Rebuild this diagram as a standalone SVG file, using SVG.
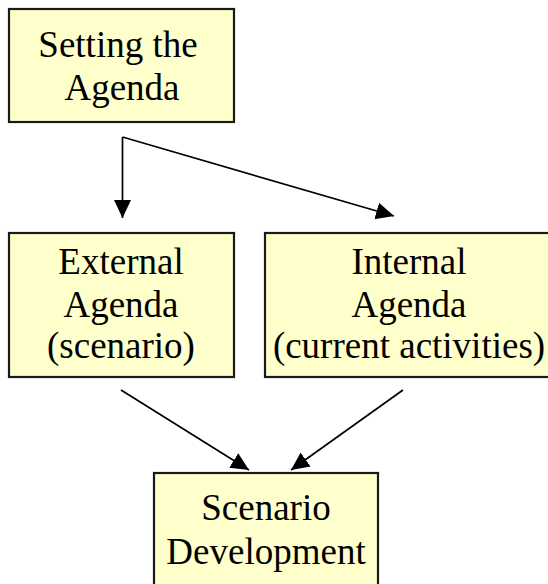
<svg xmlns="http://www.w3.org/2000/svg" width="548" height="584" viewBox="0 0 548 584">
  <style>
    .box { fill: #FFFFCC; stroke: #1a1a1a; stroke-width: 2.2; }
    .label { font-family: "Liberation Serif", "Times New Roman", serif; font-size: 37px; fill: #000; text-anchor: middle; }
    .edge { stroke: #000; stroke-width: 1.7; fill: none; marker-end: url(#arrow); }
  </style>
  <defs>
    <marker id="arrow" markerUnits="userSpaceOnUse" markerWidth="20" markerHeight="18" refX="18" refY="8.5" orient="auto">
      <path d="M0,0 L18,8.5 L0,17 z" fill="#000"/>
    </marker>
  </defs>

  <g id="setting-agenda">
    <rect class="box" x="9" y="9" width="225" height="113"/>
    <text class="label" x="118" y="57">Setting the</text>
    <text class="label" x="122" y="100">Agenda</text>
  </g>

  <g id="external-agenda">
    <rect class="box" x="9" y="233" width="225" height="144"/>
    <text class="label" x="121" y="274">External</text>
    <text class="label" x="121" y="317">Agenda</text>
    <text class="label" x="121" y="358">(scenario)</text>
  </g>

  <g id="internal-agenda">
    <rect class="box" x="265" y="233" width="290" height="144"/>
    <text class="label" x="409" y="274">Internal</text>
    <text class="label" x="409" y="317">Agenda</text>
    <text class="label" x="409" y="358">(current activities)</text>
  </g>

  <g id="scenario-development">
    <rect class="box" x="154" y="473" width="224" height="120"/>
    <text class="label" x="266" y="520">Scenario</text>
    <text class="label" x="266" y="564">Development</text>
  </g>

  <g id="connectors">
    <path class="edge" d="M122.5,137 L122.5,218"/>
    <path class="edge" d="M122.5,137 L394,216"/>
    <line class="edge" x1="121" y1="390" x2="249" y2="470"/>
    <line class="edge" x1="403" y1="390" x2="291" y2="470"/>
  </g>
</svg>
